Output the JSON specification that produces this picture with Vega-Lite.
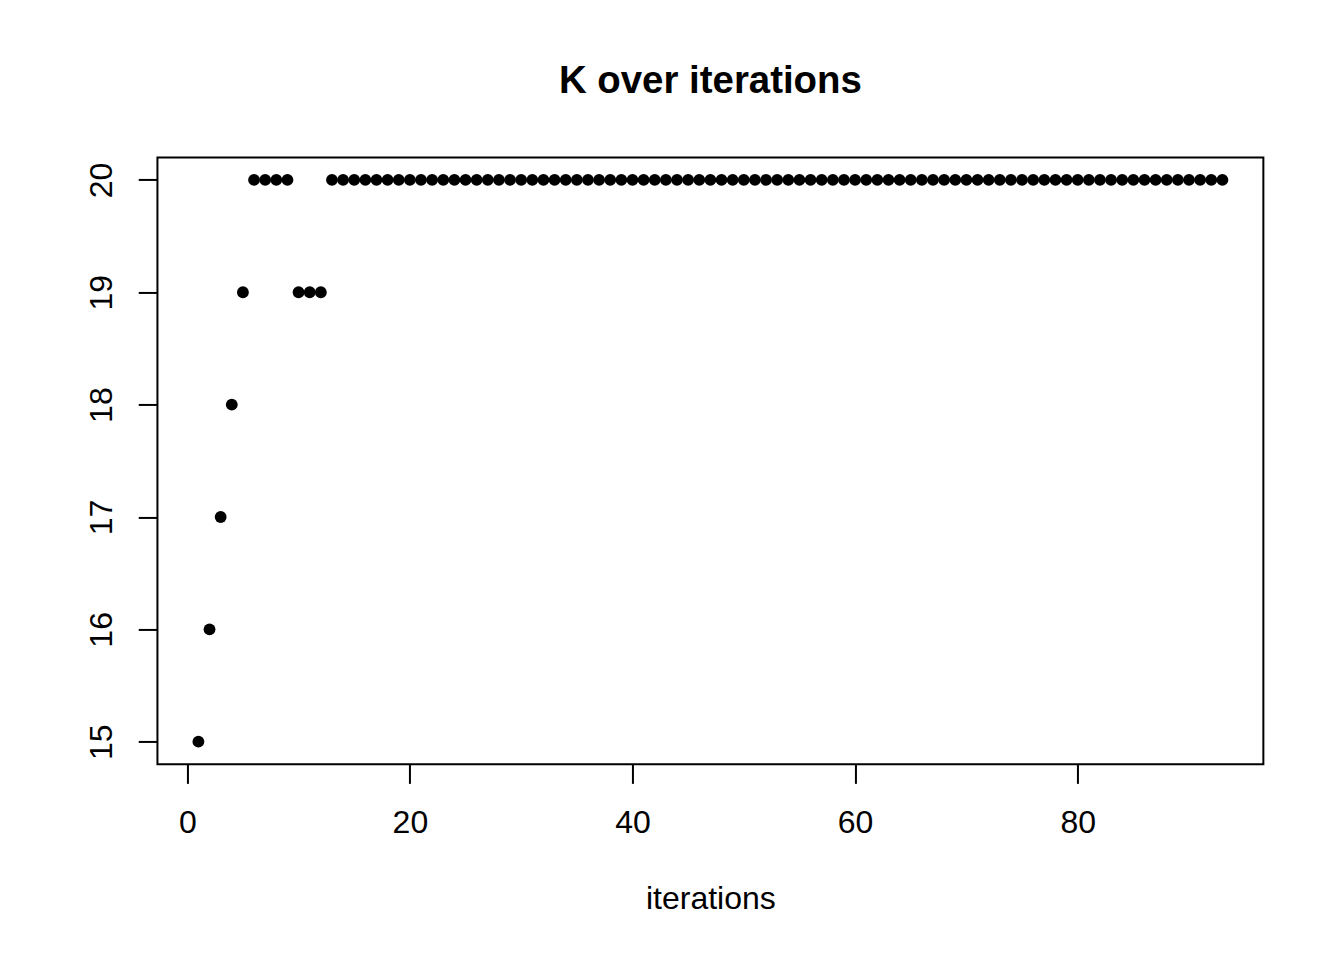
{
  "$schema": "https://vega.github.io/schema/vega-lite/v6.json",
  "autosize": {"type": "none"},
  "padding": {"left": 157.44, "top": 157.44, "right": 80.64, "bottom": 195.84},
  "width": 1105.92,
  "height": 606.72,
  "background": "white",
  "title": {
    "text": "K over iterations",
    "font": "Liberation Sans",
    "fontSize": 38.4,
    "fontWeight": "bold",
    "color": "black",
    "anchor": "middle",
    "frame": "group",
    "baseline": "alphabetic",
    "offset": 26
  },
  "config": {
    "view": {"stroke": "black", "strokeWidth": 2},
    "axis": {
      "labelFont": "Liberation Sans",
      "labelFontSize": 32,
      "labelColor": "black",
      "titleFont": "Liberation Sans",
      "titleFontSize": 32,
      "titleFontWeight": "normal",
      "titleColor": "black",
      "tickColor": "black",
      "tickWidth": 2,
      "tickSize": 19.2,
      "domain": false,
      "grid": false
    }
  },
  "data": {
    "values": [
      {"iteration": 1, "K": 15}, {"iteration": 2, "K": 16}, {"iteration": 3, "K": 17},
      {"iteration": 4, "K": 18}, {"iteration": 5, "K": 19}, {"iteration": 6, "K": 20},
      {"iteration": 7, "K": 20}, {"iteration": 8, "K": 20}, {"iteration": 9, "K": 20},
      {"iteration": 10, "K": 19}, {"iteration": 11, "K": 19}, {"iteration": 12, "K": 19},
      {"iteration": 13, "K": 20}, {"iteration": 14, "K": 20}, {"iteration": 15, "K": 20},
      {"iteration": 16, "K": 20}, {"iteration": 17, "K": 20}, {"iteration": 18, "K": 20},
      {"iteration": 19, "K": 20}, {"iteration": 20, "K": 20}, {"iteration": 21, "K": 20},
      {"iteration": 22, "K": 20}, {"iteration": 23, "K": 20}, {"iteration": 24, "K": 20},
      {"iteration": 25, "K": 20}, {"iteration": 26, "K": 20}, {"iteration": 27, "K": 20},
      {"iteration": 28, "K": 20}, {"iteration": 29, "K": 20}, {"iteration": 30, "K": 20},
      {"iteration": 31, "K": 20}, {"iteration": 32, "K": 20}, {"iteration": 33, "K": 20},
      {"iteration": 34, "K": 20}, {"iteration": 35, "K": 20}, {"iteration": 36, "K": 20},
      {"iteration": 37, "K": 20}, {"iteration": 38, "K": 20}, {"iteration": 39, "K": 20},
      {"iteration": 40, "K": 20}, {"iteration": 41, "K": 20}, {"iteration": 42, "K": 20},
      {"iteration": 43, "K": 20}, {"iteration": 44, "K": 20}, {"iteration": 45, "K": 20},
      {"iteration": 46, "K": 20}, {"iteration": 47, "K": 20}, {"iteration": 48, "K": 20},
      {"iteration": 49, "K": 20}, {"iteration": 50, "K": 20}, {"iteration": 51, "K": 20},
      {"iteration": 52, "K": 20}, {"iteration": 53, "K": 20}, {"iteration": 54, "K": 20},
      {"iteration": 55, "K": 20}, {"iteration": 56, "K": 20}, {"iteration": 57, "K": 20},
      {"iteration": 58, "K": 20}, {"iteration": 59, "K": 20}, {"iteration": 60, "K": 20},
      {"iteration": 61, "K": 20}, {"iteration": 62, "K": 20}, {"iteration": 63, "K": 20},
      {"iteration": 64, "K": 20}, {"iteration": 65, "K": 20}, {"iteration": 66, "K": 20},
      {"iteration": 67, "K": 20}, {"iteration": 68, "K": 20}, {"iteration": 69, "K": 20},
      {"iteration": 70, "K": 20}, {"iteration": 71, "K": 20}, {"iteration": 72, "K": 20},
      {"iteration": 73, "K": 20}, {"iteration": 74, "K": 20}, {"iteration": 75, "K": 20},
      {"iteration": 76, "K": 20}, {"iteration": 77, "K": 20}, {"iteration": 78, "K": 20},
      {"iteration": 79, "K": 20}, {"iteration": 80, "K": 20}, {"iteration": 81, "K": 20},
      {"iteration": 82, "K": 20}, {"iteration": 83, "K": 20}, {"iteration": 84, "K": 20},
      {"iteration": 85, "K": 20}, {"iteration": 86, "K": 20}, {"iteration": 87, "K": 20},
      {"iteration": 88, "K": 20}, {"iteration": 89, "K": 20}, {"iteration": 90, "K": 20},
      {"iteration": 91, "K": 20}, {"iteration": 92, "K": 20}, {"iteration": 93, "K": 20}
    ]
  },
  "mark": {"type": "point", "filled": true, "shape": "circle", "size": 140, "color": "black", "opacity": 1},
  "encoding": {
    "x": {
      "field": "iteration",
      "type": "quantitative",
      "scale": {"domain": [-2.68, 96.68], "nice": false, "zero": false},
      "axis": {
        "title": "iterations",
        "values": [0, 20, 40, 60, 80],
        "labelBaseline": "alphabetic",
        "labelAlign": "center",
        "labelPadding": 49,
        "labelFlush": false,
        "labelOverlap": false,
        "titleBaseline": "alphabetic",
        "titleY": 144
      }
    },
    "y": {
      "field": "K",
      "type": "quantitative",
      "scale": {"domain": [14.8, 20.2], "nice": false, "zero": false},
      "axis": {
        "title": null,
        "values": [15, 16, 17, 18, 19, 20],
        "labelAngle": -90,
        "labelAlign": "center",
        "labelBaseline": "alphabetic",
        "labelPadding": 27,
        "labelFlush": false,
        "labelOverlap": false
      }
    }
  }
}
